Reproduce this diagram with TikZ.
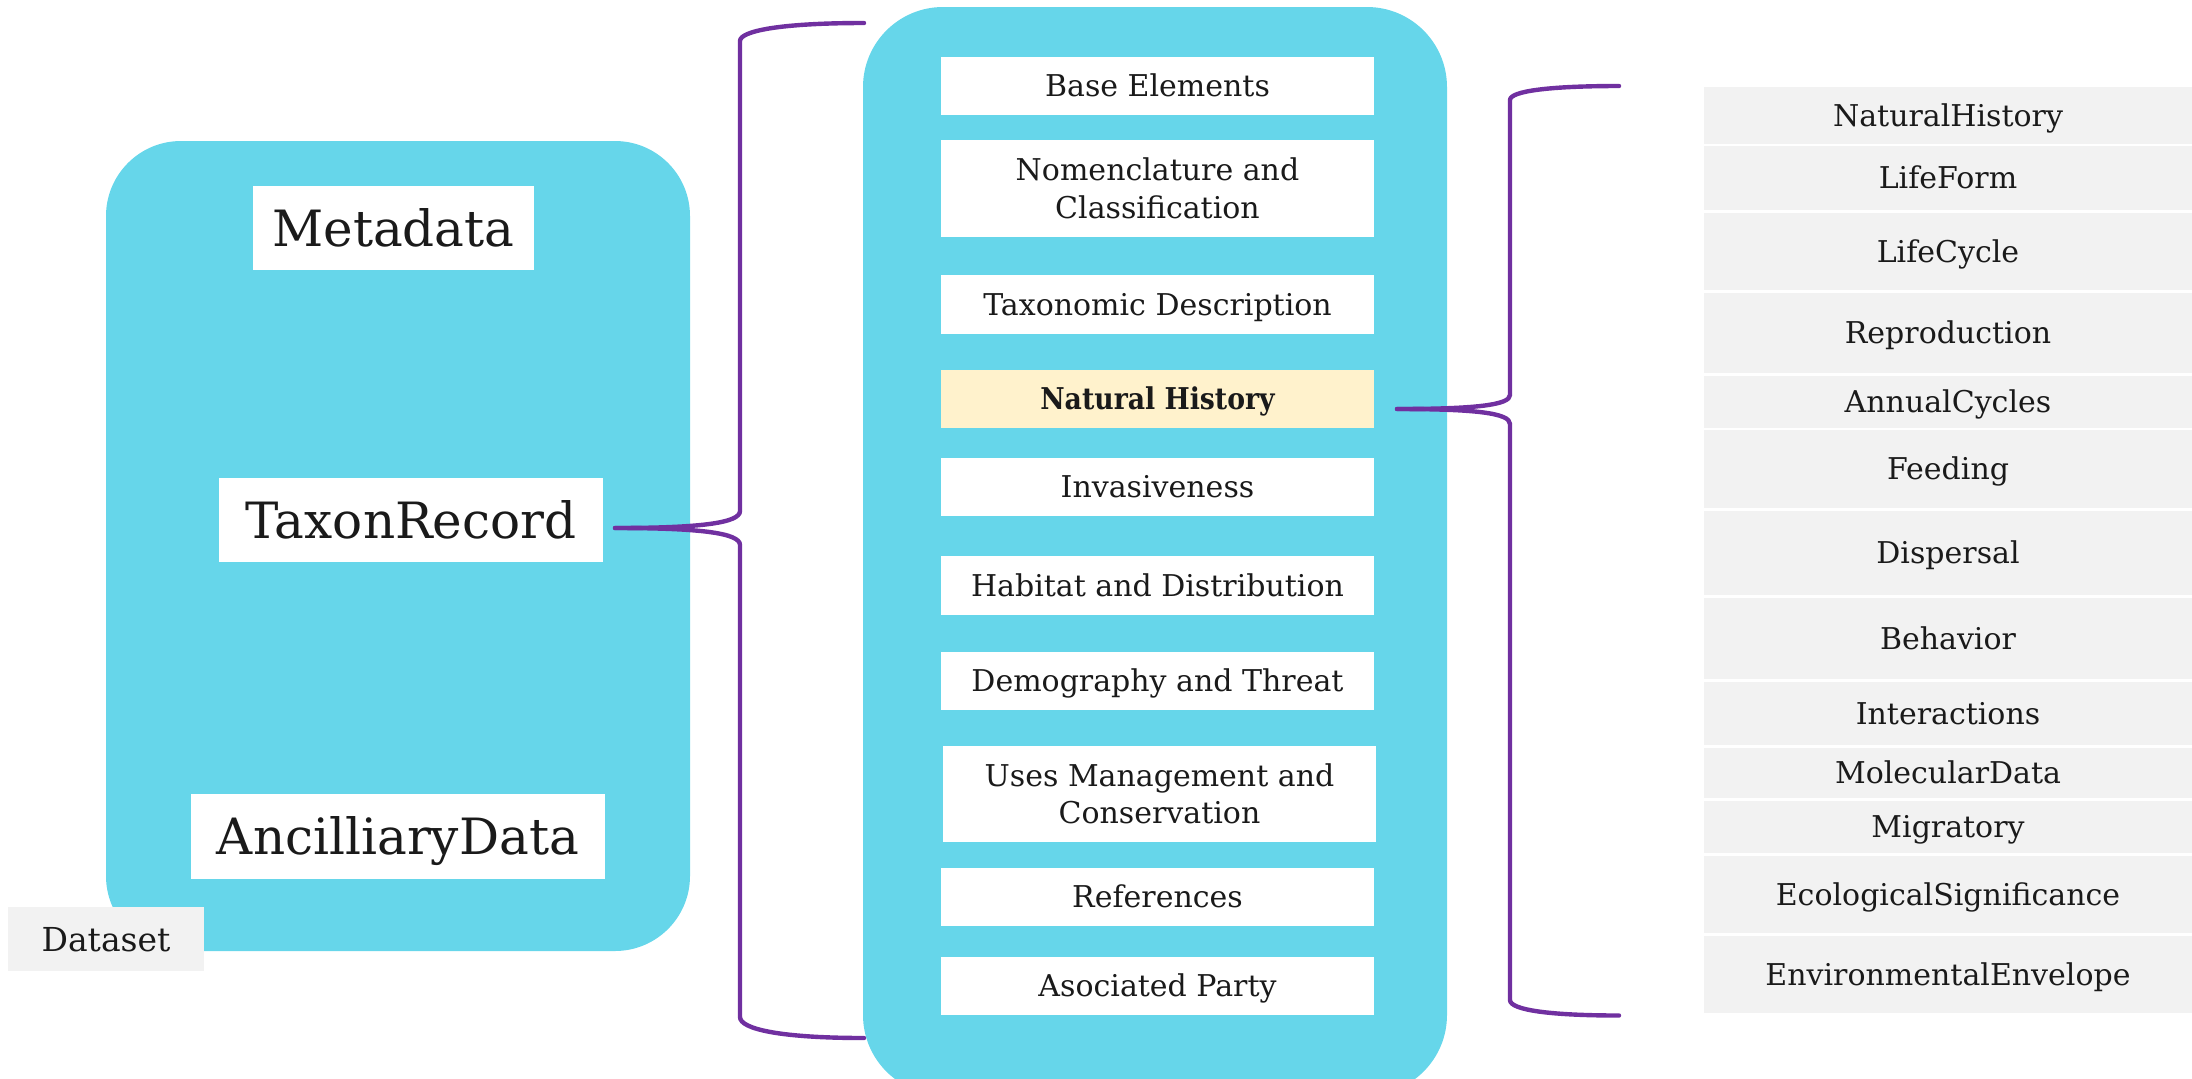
\documentclass[tikz,border=0pt]{standalone}
\usepackage{fontspec}
\setmainfont{DejaVu Serif}
\definecolor{cyanbg}{HTML}{66D6EA}
\definecolor{bracecol}{HTML}{7030A0}
\definecolor{txt}{HTML}{1A1A1A}
\definecolor{hl}{HTML}{FFF2CC}
\definecolor{greybox}{HTML}{F2F2F2}
\begin{document}
\begin{tikzpicture}[x=0.5pt,y=-0.5pt,
  big/.style={fill=cyanbg,draw=none},
  bigtext/.style={fill=white,inner sep=0pt,text=txt,font=\fontsize{25}{30}\selectfont,text height=18.2pt,text depth=0pt},
  item/.style={fill=white,inner sep=0pt,text=txt,minimum width=216.5pt,align=center,font=\fontsize{15}{18.9}\selectfont,text height=10.9pt,text depth=0pt},
  twoline/.style={text height=29.8pt},
  sub/.style={fill=greybox,inner sep=0pt,text=txt,minimum width=244pt,font=\fontsize{15}{18.9}\selectfont,text height=10.9pt,text depth=0pt},
  brace/.style={draw=bracecol,line width=2.2pt,line cap=round,line join=round}]
\useasboundingbox (0,0) rectangle (2192,1078);
% left container
\path[big,rounded corners=37.5pt] (106,141) rectangle (690,951);
\node[bigtext,minimum width=140.5pt,minimum height=42pt] (meta) at (393.5,228) {Metadata};
\node[bigtext,minimum width=192pt,minimum height=42pt] (taxon) at (411,520) {TaxonRecord};
\node[bigtext,minimum width=207pt,minimum height=42.5pt] (ancil) at (398,836.5) {AncilliaryData};
\node[fill=greybox,inner sep=0pt,text=txt,minimum width=98pt,minimum height=32pt,font=\fontsize{16.5}{20}\selectfont,text height=12pt,text depth=0pt] (dataset) at (106,939) {Dataset};
% center container
\path[big,rounded corners=40pt] (863,7) rectangle (1447,1095);
\node[item,minimum height=29pt] (base) at (1157.5,86) {Base Elements};
\node[item,twoline,minimum height=48.5pt] (nomen) at (1157.5,188.5) {Nomenclature and\\Classification};
\node[item,minimum height=29.5pt] (taxdesc) at (1157.5,304.5) {Taxonomic Description};
\node[item,minimum height=29pt,fill=hl,font=\fontsize{15}{18.9}\selectfont\bfseries\addfontfeatures{FakeStretch=0.89}] (nat) at (1157.5,399) {Natural History};
\node[item,minimum height=29pt] (inv) at (1157.5,487) {Invasiveness};
\node[item,minimum height=29.5pt] (hab) at (1157.5,585.5) {Habitat and Distribution};
\node[item,minimum height=29pt] (demo) at (1157.5,681) {Demography and Threat};
\node[item,twoline,minimum height=48pt] (uses) at (1159.5,794) {Uses Management and\\Conservation};
\node[item,minimum height=29pt] (refs) at (1157.5,897) {References};
\node[item,minimum height=29pt] (asoc) at (1157.5,986) {Asociated Party};
% right list
\node[sub,minimum height=28.2pt] (s1) at (1948,115.5) {NaturalHistory};
\node[sub,minimum height=31.65pt] (s2) at (1948,178) {LifeForm};
\node[sub,minimum height=38.5pt] (s3) at (1948,251.5) {LifeCycle};
\node[sub,minimum height=40pt] (s4) at (1948,333) {Reproduction};
\node[sub,minimum height=25.8pt] (s5) at (1948,401.8) {AnnualCycles};
\node[sub,minimum height=39pt] (s6) at (1948,469) {Feeding};
\node[sub,minimum height=42pt] (s7) at (1948,553) {Dispersal};
\node[sub,minimum height=40.5pt] (s8) at (1948,638.5) {Behavior};
\node[sub,minimum height=31.5pt] (s9) at (1948,713.5) {Interactions};
\node[sub,minimum height=25pt] (s10) at (1948,773) {MolecularData};
\node[sub,minimum height=26pt] (s11) at (1948,827) {Migratory};
\node[sub,minimum height=38.5pt] (s12) at (1948,894.5) {EcologicalSignificance};
\node[sub,minimum height=38.7pt] (s13) at (1948,974.7) {EnvironmentalEnvelope};
% braces
\coordinate (ltip) at (615,528);
\coordinate (ltop) at (864,23);
\coordinate (lbot) at (864,1038);
\coordinate (rtip) at (1397,409);
\coordinate (rtop) at (1619,86);
\coordinate (rbot) at (1619,1015.5);
\draw[brace] (ltip) .. controls (700,528) and (740,523) .. (740,511) -- (740,41) .. controls (740,31) and (780,23) .. (ltop);
\draw[brace] (ltip) .. controls (700,528) and (740,533) .. (740,545) -- (740,1017) .. controls (740,1029) and (780,1038) .. (lbot);
\draw[brace] (rtip) .. controls (1475,409) and (1510,405) .. (1510,395) -- (1510,100) .. controls (1510,91) and (1550,86) .. (rtop);
\draw[brace] (rtip) .. controls (1475,409) and (1510,413) .. (1510,424) -- (1510,1000) .. controls (1510,1010) and (1550,1015.5) .. (rbot);
\end{tikzpicture}
\end{document}
